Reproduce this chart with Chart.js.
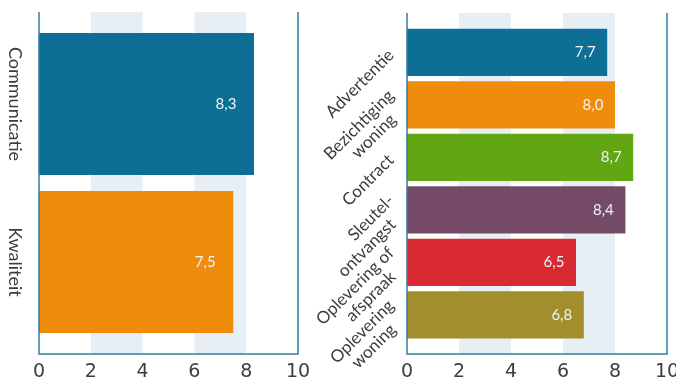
<!DOCTYPE html>
<html>
<head>
<meta charset="utf-8">
<script src="https://cdn.jsdelivr.net/npm/chart.js@4"></script>
<style>
  html, body { margin: 0; padding: 0; width: 676px; height: 379px; overflow: hidden; background: #fff; }
  #left { position: absolute; left: 0; top: 0; }
  #right { position: absolute; left: 300px; top: 0; }
</style>
</head>
<body>
<canvas id="left" width="338" height="379"></canvas>
<canvas id="right" width="410" height="379"></canvas>
<script>
// Data
const leftLabels = ["Communicatie", "Kwaliteit"];
const leftValues = [8.3, 7.5];
const leftColors = ["#0d6e96", "#f08c0c"];

const rightLabels = [["Advertentie"], ["Bezichtiging", "woning"], ["Contract"], ["Sleutel-", "ontvangst"], ["Oplevering of", "afspraak"], ["Oplevering", "woning"]];
const rightValues = [7.7, 8.0, 8.7, 8.4, 6.5, 6.8];
const rightColors = ["#0d6e96", "#f08c0c", "#62a614", "#754a66", "#d92a31", "#a38e2e"];

const xTicks = [0, 2, 4, 6, 8, 10];
const bands = [[2, 4], [6, 8]];

const FONT = "Lato";
const AXIS_COLOR = "#2e7ea3";
const EXTEND = 13; // axes reach a bit past the bars

// bands behind the bars, axis lines on top
const framePlugin = {
  id: "frame",
  beforeDatasetsDraw(chart) {
    const { ctx, chartArea } = chart;
    const x = chart.scales.x;
    ctx.save();
    ctx.fillStyle = "#e7eff5";
    bands.forEach(([a, b]) => {
      const x1 = x.getPixelForValue(a), x2 = x.getPixelForValue(b);
      ctx.fillRect(x1, chartArea.top - EXTEND, x2 - x1, chartArea.bottom - chartArea.top + 2 * EXTEND);
    });
    ctx.restore();
  },
  afterDatasetsDraw(chart) {
    const { ctx, chartArea } = chart;
    const x = chart.scales.x;
    const x0 = x.getPixelForValue(0), x10 = x.getPixelForValue(10);
    const top = chartArea.top - EXTEND, bottom = chartArea.bottom + EXTEND;
    ctx.save();
    ctx.strokeStyle = AXIS_COLOR;
    ctx.lineWidth = 1.5;
    ctx.beginPath();
    ctx.moveTo(x0, top);
    ctx.lineTo(x0, bottom);
    ctx.lineTo(x10, bottom);
    ctx.lineTo(x10, top);
    ctx.stroke();
    ctx.restore();
  }
};

// value labels inside bars + category labels
const labelPlugin = {
  id: "labels",
  afterDatasetsDraw(chart, args, opts) {
    const { ctx } = chart;
    const x = chart.scales.x, y = chart.scales.y;
    const ds = chart.data.datasets[0];
    ctx.save();
    ctx.fillStyle = "#eef4f7";
    ctx.font = "15px " + FONT;
    ctx.textAlign = "center";
    ctx.textBaseline = "middle";
    ds.data.forEach((v, i) => {
      ctx.fillText(v.toFixed(1).replace(".", ","), x.getPixelForValue(v) - opts.valueOffset, y.getPixelForTick(i));
    });

    ctx.fillStyle = "#3c3c3c";
    ctx.font = opts.fontSize + "px " + FONT;
    chart.data.labels.forEach((lab, i) => {
      const lines = Array.isArray(lab) ? lab : [lab];
      const cy = y.getPixelForTick(i);
      lines.forEach((line, j) => {
        const off = j - (lines.length - 1) / 2;
        ctx.save();
        ctx.translate(opts.labelX + j * opts.lineShiftX, cy + off * opts.lineGap);
        ctx.rotate(opts.rotation * Math.PI / 180);
        ctx.textAlign = opts.align;
        ctx.textBaseline = "middle";
        ctx.fillText(line, 0, 0);
        ctx.restore();
      });
    });
    ctx.restore();
  }
};

function makeChart(id, labels, values, colors, yWidth, pad, labelOpts) {
  return new Chart(document.getElementById(id), {
    type: "bar",
    data: {
      labels,
      datasets: [{
        data: values,
        backgroundColor: colors,
        borderWidth: 0,
        categoryPercentage: 1,
        barPercentage: 0.9
      }]
    },
    options: {
      indexAxis: "y",
      responsive: false,
      animation: false,
      events: [],
      layout: { padding: pad },
      scales: {
        x: {
          min: 0,
          max: 10,
          afterBuildTicks: (s) => { s.ticks = xTicks.map(v => ({ value: v })); },
          afterFit: (s) => { s.height = 38; },
          grid: { display: false },
          border: { display: false },
          ticks: {
            color: "#3a3f45",
            font: { family: "DejaVu Sans", size: 19 },
            padding: 12,
            maxRotation: 0
          }
        },
        y: {
          afterFit: (s) => { s.width = yWidth; },
          grid: { display: false },
          border: { display: false },
          ticks: { display: false }
        }
      },
      plugins: {
        legend: { display: false },
        tooltip: { enabled: false },
        labels: labelOpts
      }
    },
    plugins: [framePlugin, labelPlugin]
  });
}

// left chart: plot from x=39 to 298
makeChart("left", leftLabels, leftValues, leftColors, 39, { top: 25, right: 40, bottom: 0, left: 0 }, {
  valueOffset: 28, fontSize: 18, rotation: 90, align: "center",
  labelX: 15, lineGap: 20, lineShiftX: 0
});
// right chart: plot from x=407 to 667 (page), canvas starts at 300
makeChart("right", rightLabels, rightValues, rightColors, 107, { top: 26, right: 43, bottom: 0, left: 0 }, {
  valueOffset: 22, fontSize: 17, rotation: -45, align: "right",
  labelX: 91, lineGap: 24, lineShiftX: 2
});
</script>
</body>
</html>
